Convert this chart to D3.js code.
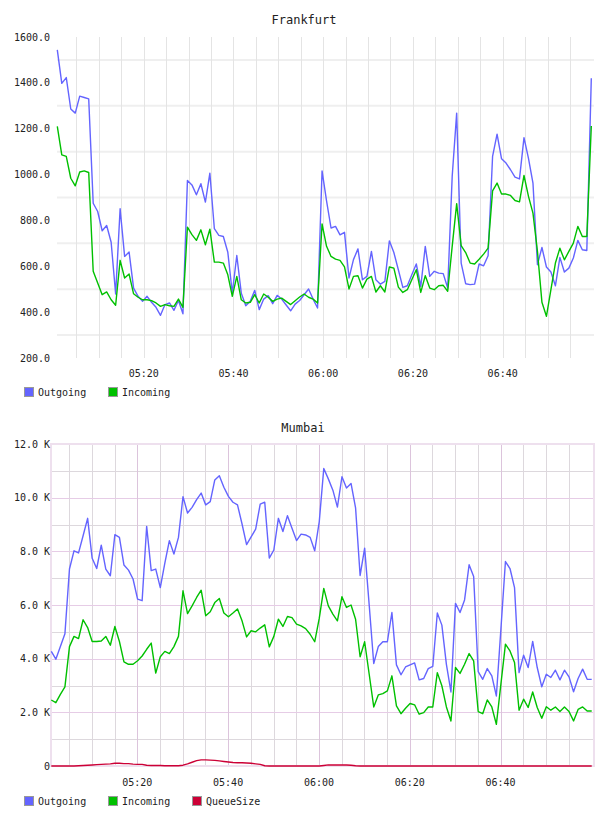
<!DOCTYPE html>
<html>
<head>
<meta charset="utf-8">
<script src="https://cdn.jsdelivr.net/npm/d3@7"></script>
<style>
  body { margin: 0; background: #fff; }
  svg { display: block; }
  text { font-family: "DejaVu Sans Mono", monospace; fill: #222; }
</style>
</head>
<body>
<svg id="chart" width="608" height="816"></svg>
<script>
// data, one value per minute
const frankStart = new Date(2020, 0, 1, 5, 0, 45)
const mumbStart = new Date(2020, 0, 1, 5, 1, 4)

const frankOutgoing = [
  1544,1398,1423,1286,1268,1342,1336,1330,875,839,
  755,778,705,479,851,643,662,505,469,447,
  469,443,421,386,433,440,408,451,393,974,
  955,912,960,880,1006,764,735,730,661,483,
  647,483,428,447,495,411,457,472,437,473,
  457,431,406,435,451,476,501,457,418,1016,
  885,767,774,737,748,549,629,676,541,556,
  665,541,522,534,711,660,585,508,515,563,
  610,512,687,556,578,570,568,505,992,1268,
  614,524,520,522,610,602,646,1079,1176,1069,
  1050,1021,989,981,1161,1071,963,607,682,597,
  575,515,639,575,592,636,713,672,669,1420]

const frankIncoming = [
  1210,1086,1079,984,951,1011,1016,1009,578,527,
  476,488,454,430,626,549,566,480,465,454,
  454,450,440,425,433,428,425,457,421,771,
  738,713,759,694,762,618,618,614,563,469,
  556,454,440,443,476,440,479,465,447,457,
  461,447,433,450,466,479,465,457,440,785,
  687,643,631,626,597,501,556,559,505,544,
  556,488,515,488,597,592,509,486,498,541,
  585,486,559,505,498,515,517,491,687,873,
  690,660,614,610,631,653,679,929,963,915,
  915,909,887,881,996,905,832,665,443,382,
  498,614,679,628,665,701,774,730,730,1212]

// Mumbai values in K
const mumbOutgoing = [
  4.27,3.98,4.45,4.93,7.34,8.02,7.94,8.58,9.23,7.74,
  7.36,8.23,7.34,7.09,8.62,8.52,7.49,7.30,6.97,6.22,
  6.16,8.93,7.28,7.34,6.65,7.56,8.40,7.90,8.52,10.04,
  9.43,9.64,9.93,10.17,9.73,9.85,10.66,10.82,10.39,10.05,
  9.83,9.73,9.02,8.25,8.54,8.83,9.76,9.83,7.75,8.05,
  9.23,8.74,9.33,8.86,8.40,8.64,8.61,8.52,8.02,9.10,
  11.09,10.70,10.28,9.65,10.78,10.36,10.53,9.62,7.10,8.12,
  6.00,3.82,4.45,4.63,4.63,5.72,3.77,3.40,3.69,3.77,
  3.84,3.21,3.26,3.63,3.71,5.70,5.25,3.79,2.76,6.06,
  5.72,6.19,7.50,7.06,3.52,3.23,3.63,3.36,2.61,5.10,
  7.62,7.36,6.65,3.48,4.13,3.67,4.64,3.67,2.95,3.42,
  3.30,3.57,3.21,3.57,3.32,2.77,3.26,3.61,3.23,3.23]

const mumbIncoming = [
  2.46,2.36,2.67,2.95,4.45,4.83,4.75,5.45,5.16,4.64,
  4.64,4.66,4.83,4.50,5.20,4.64,3.88,3.79,3.79,3.92,
  4.10,4.35,4.58,3.46,4.07,4.27,4.19,4.45,4.83,6.53,
  5.68,5.97,6.28,6.55,5.60,5.75,6.09,6.24,5.70,5.56,
  5.70,5.85,5.41,4.81,5.04,5.00,5.14,5.26,4.44,4.83,
  5.47,5.20,5.57,5.53,5.29,5.22,5.12,4.91,4.63,5.50,
  6.62,5.97,5.66,5.41,6.31,5.91,6.00,5.47,4.07,4.63,
  3.42,2.20,2.65,2.70,2.80,3.36,2.24,1.95,2.15,2.33,
  2.28,1.93,1.99,2.20,2.20,3.48,2.99,2.20,1.68,3.67,
  3.45,3.79,4.19,3.92,2.03,1.95,2.46,2.20,1.55,3.05,
  4.54,4.29,3.86,2.08,2.49,2.18,2.76,2.18,1.78,2.21,
  2.08,2.20,2.03,2.20,2.03,1.68,2.11,2.20,2.05,2.05]

const mumbQueue = [
  0,0,0,0,0,0,0.01,0.02,0.03,0.04,
  0.05,0.06,0.07,0.08,0.10,0.10,0.09,0.09,0.07,0.06,
  0.06,0.03,0.02,0.02,0.02,0.01,0.01,0.01,0.01,0.03,
  0.08,0.14,0.20,0.23,0.23,0.22,0.21,0.19,0.17,0.15,
  0.13,0.12,0.12,0.11,0.10,0.08,0.06,0.01,0,0,
  0,0,0,0,0,0,0,0,0,0,
  0.02,0.04,0.04,0.04,0.04,0.04,0.03,0.01,0,0,
  0,0,0,0,0,0,0,0,0,0,
  0,0,0,0,0,0,0,0,0,0,
  0,0,0,0,0,0,0,0,0,0,
  0,0,0,0,0,0,0,0,0,0,
  0,0,0,0,0,0,0,0,0,0]

const frankTicks = [200, 400, 600, 800, 1000, 1200, 1400, 1600]
const frankGrid = [300, 500, 700, 900, 1100, 1300, 1500]
const mumbTicks = [0, 2, 4, 6, 8, 10, 12]
const mumbMinor = [1, 3, 5, 7, 9, 11]

const seriesNames = ['Outgoing', 'Incoming', 'QueueSize']
const colors = {Outgoing: '#6464ff', Incoming: '#00c000', QueueSize: '#cc0036'}

const svg = d3.select('#chart')
const minute = 60000

function timesFor(start, n) {
  return d3.range(n).map(i => new Date(+start + i * minute))
}

function drawLegend(y, names) {
  let lg = svg.append('g').attr('class', 'legend')
  let xs = [24, 108, 192]
  names.forEach((name, i) => {
    lg.append('rect')
      .attr('x', xs[i] + 0.5).attr('y', y + 0.5)
      .attr('width', 9).attr('height', 9)
      .attr('fill', colors[name])
      .attr('stroke', '#999')
    lg.append('text')
      .attr('x', xs[i] + 14).attr('y', y + 9)
      .style('font-size', '10px')
      .text(name)
  })
}

function drawLines(g, x, y, times, series) {
  const line = d3.line()
    .x((d, i) => x(times[i]))
    .y(d => y(d))
  series.forEach(s => {
    g.append('path')
      .datum(s.values)
      .attr('fill', 'none')
      .attr('stroke', colors[s.name])
      .attr('stroke-width', 1.4)
      .attr('stroke-linejoin', 'round')
      .attr('d', line)
  })
}

const fmtTime = d3.timeFormat('%H:%M')

// ---- Frankfurt ----
{
  const times = timesFor(frankStart, frankOutgoing.length)
  const left = 57, right = 594, top = 37, bottom = 358
  const x = d3.scaleTime().domain([times[0], times[times.length - 1]]).range([57.3, 591.3])
  const y = d3.scaleLinear().domain([200, 1600]).range([bottom, top])
  const g = svg.append('g').attr('class', 'frankfurt')

  svg.append('text')
    .attr('x', 304).attr('y', 24)
    .attr('text-anchor', 'middle')
    .style('font-size', '12px')
    .text('Frankfurt')

  g.selectAll('.hgrid').data(frankGrid).enter().append('line')
    .attr('x1', left).attr('x2', right)
    .attr('y1', d => y(d)).attr('y2', d => y(d))
    .attr('stroke', '#efefef').attr('stroke-width', 2)

  g.selectAll('.vgrid').data(x.ticks(d3.timeMinute.every(5))).enter().append('line')
    .attr('x1', d => Math.round(x(d)) + 0.5).attr('x2', d => Math.round(x(d)) + 0.5)
    .attr('y1', top).attr('y2', bottom)
    .attr('stroke', '#e4e4e4')

  g.selectAll('.ylab').data(frankTicks).enter().append('text')
    .attr('x', 50).attr('y', d => y(d)).attr('dy', '0.35em')
    .attr('text-anchor', 'end')
    .style('font-size', '10px')
    .text(d3.format('.1f'))

  g.selectAll('.xlab').data(x.ticks(d3.timeMinute.every(20))).enter().append('text')
    .attr('x', d => x(d)).attr('y', 377)
    .attr('text-anchor', 'middle')
    .style('font-size', '10px')
    .text(fmtTime)

  drawLines(g, x, y, times, [
    {name: 'Outgoing', values: frankOutgoing},
    {name: 'Incoming', values: frankIncoming}
  ])
  drawLegend(387, seriesNames.slice(0, 2))
}

// ---- Mumbai ----
{
  const times = timesFor(mumbStart, mumbOutgoing.length)
  const left = 51, right = 594, top = 444, bottom = 766
  const x = d3.scaleTime()
    .domain([times[0], new Date(+times[times.length - 1] + 0.5 * minute)])
    .range([51.3, 594])
  const y = d3.scaleLinear().domain([0, 12]).range([bottom, top])
  const g = svg.append('g').attr('class', 'mumbai')

  svg.append('text')
    .attr('x', 303).attr('y', 432)
    .attr('text-anchor', 'middle')
    .style('font-size', '12px')
    .text('Mumbai')

  const major = x.ticks(d3.timeMinute.every(20)).filter(d => x(d) < right - 8)
  const minor = x.ticks(d3.timeMinute.every(5)).filter(d => d.getMinutes() % 20 != 0)

  g.selectAll('.hminor').data(mumbMinor).enter().append('line')
    .attr('x1', left).attr('x2', right)
    .attr('y1', d => Math.round(y(d)) + 0.5).attr('y2', d => Math.round(y(d)) + 0.5)
    .attr('stroke', '#ddd8dd')
  g.selectAll('.vminor').data(minor).enter().append('line')
    .attr('x1', d => Math.round(x(d)) + 0.5).attr('x2', d => Math.round(x(d)) + 0.5)
    .attr('y1', top).attr('y2', bottom)
    .attr('stroke', '#ddd8dd')
  g.selectAll('.hmajor').data(mumbTicks).enter().append('line')
    .attr('x1', left).attr('x2', right)
    .attr('y1', d => Math.round(y(d)) + 0.5).attr('y2', d => Math.round(y(d)) + 0.5)
    .attr('stroke', '#e6cce6')
  g.selectAll('.vmajor').data(major).enter().append('line')
    .attr('x1', d => Math.round(x(d)) + 0.5).attr('x2', d => Math.round(x(d)) + 0.5)
    .attr('y1', top).attr('y2', bottom)
    .attr('stroke', '#dcc4dc')

  g.append('rect')
    .attr('x', left).attr('y', top)
    .attr('width', right - left).attr('height', bottom - top)
    .attr('fill', 'none')
    .attr('stroke', '#eee0ee').attr('stroke-width', 2)

  g.selectAll('.ylab').data(mumbTicks).enter().append('text')
    .attr('x', 50).attr('y', d => y(d)).attr('dy', '0.35em')
    .attr('text-anchor', 'end')
    .style('font-size', '10px')
    .text(d => d == 0 ? '0' : d.toFixed(1) + ' K')

  g.selectAll('.xlab').data(major).enter().append('text')
    .attr('x', d => x(d)).attr('y', 786)
    .attr('text-anchor', 'middle')
    .style('font-size', '10px')
    .text(fmtTime)

  drawLines(g, x, y, times, [
    {name: 'Outgoing', values: mumbOutgoing},
    {name: 'Incoming', values: mumbIncoming},
    {name: 'QueueSize', values: mumbQueue}
  ])
  drawLegend(796, seriesNames)
}
</script>
</body>
</html>
